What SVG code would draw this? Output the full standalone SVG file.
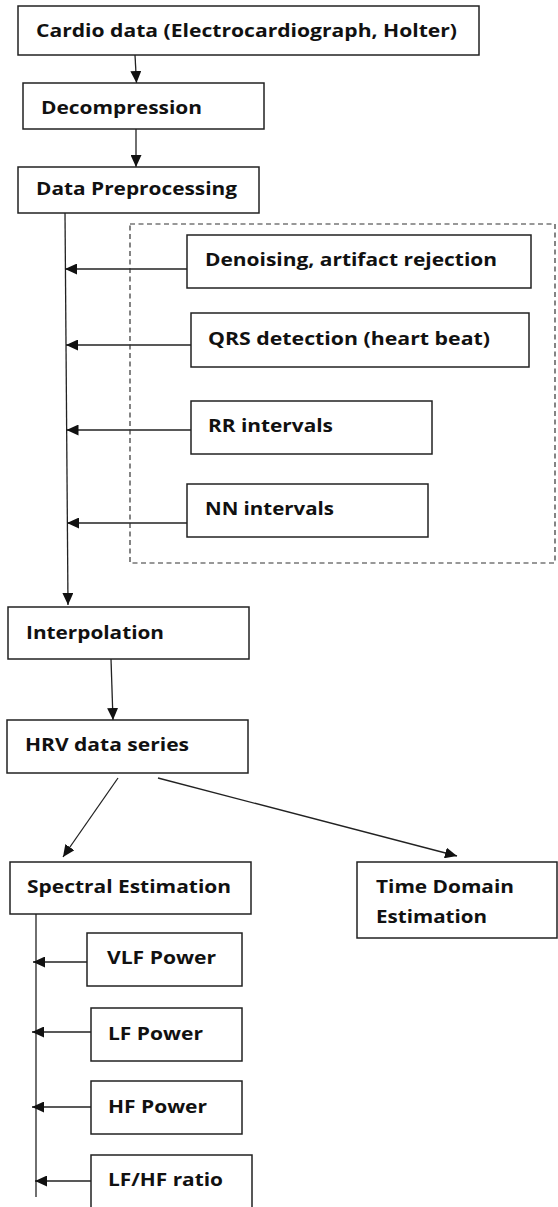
<svg xmlns="http://www.w3.org/2000/svg" width="558" height="1207" viewBox="0 0 558 1207">
<defs>
<style>
.box{fill:#fff;stroke:#222;stroke-width:1.5}
.dash{fill:none;stroke:#333;stroke-width:1.2;stroke-dasharray:5 3.5}
.ln{fill:none;stroke:#222;stroke-width:1.3}
.arr{fill:none;stroke:#222;stroke-width:1.3;marker-end:url(#ah)}
text{font-family:"Open Sans","Liberation Sans",sans-serif;font-weight:700;font-size:18px;fill:#111}
</style>
<marker id="ah" markerUnits="userSpaceOnUse" markerWidth="13" markerHeight="11" refX="12" refY="5.5" orient="auto">
<path d="M0,0 L12,5.5 L0,11 Z" fill="#111"/>
</marker>
</defs>
<rect width="558" height="1207" fill="#fff"/>
<g id="connectors">
<line class="arr" x1="135" y1="55" x2="136.5" y2="83"/>
<line class="arr" x1="136" y1="129" x2="136" y2="167"/>
<line class="arr" x1="65" y1="213" x2="68" y2="605"/>
<line class="arr" x1="187" y1="269" x2="65" y2="269"/>
<line class="arr" x1="191" y1="345" x2="66" y2="345"/>
<line class="arr" x1="191" y1="430" x2="66.5" y2="430"/>
<line class="arr" x1="187" y1="523" x2="67" y2="523"/>
<line class="arr" x1="111" y1="659" x2="113" y2="720"/>
<line class="arr" x1="118" y1="778" x2="63" y2="857"/>
<line class="arr" x1="158" y1="778" x2="457" y2="856"/>
<line class="ln" x1="36" y1="914" x2="36" y2="1197"/>
<line class="arr" x1="87" y1="962" x2="33" y2="962"/>
<line class="arr" x1="91" y1="1032" x2="32" y2="1032"/>
<line class="arr" x1="91" y1="1107" x2="32" y2="1107"/>
<line class="arr" x1="91" y1="1181" x2="35" y2="1181"/>
</g>
<g id="preprocessing-group">
<rect class="dash" x="130" y="224" width="425" height="339"/>
</g>
<g id="cardio">
<rect class="box" x="18" y="6" width="461" height="49"/>
<text x="36" y="37" textLength="421" lengthAdjust="spacingAndGlyphs">Cardio data (Electrocardiograph, Holter)</text>
</g>
<g id="decompression">
<rect class="box" x="23" y="83" width="241" height="46"/>
<text x="41" y="114" textLength="161" lengthAdjust="spacingAndGlyphs">Decompression</text>
</g>
<g id="preprocessing">
<rect class="box" x="18" y="167" width="241" height="46"/>
<text x="36" y="195" textLength="201" lengthAdjust="spacingAndGlyphs">Data Preprocessing</text>
</g>
<g id="denoising">
<rect class="box" x="187" y="235" width="344" height="53"/>
<text x="205" y="266" textLength="292" lengthAdjust="spacingAndGlyphs">Denoising, artifact rejection</text>
</g>
<g id="qrs">
<rect class="box" x="191" y="313" width="338" height="54"/>
<text x="208" y="345" textLength="282" lengthAdjust="spacingAndGlyphs">QRS detection (heart beat)</text>
</g>
<g id="rr">
<rect class="box" x="191" y="401" width="241" height="53"/>
<text x="208" y="432" textLength="125" lengthAdjust="spacingAndGlyphs">RR intervals</text>
</g>
<g id="nn">
<rect class="box" x="187" y="484" width="241" height="53"/>
<text x="205" y="515" textLength="129" lengthAdjust="spacingAndGlyphs">NN intervals</text>
</g>
<g id="interpolation">
<rect class="box" x="8" y="607" width="241" height="52"/>
<text x="26" y="639" textLength="138" lengthAdjust="spacingAndGlyphs">Interpolation</text>
</g>
<g id="hrv">
<rect class="box" x="7" y="720" width="241" height="53"/>
<text x="25" y="751" textLength="164" lengthAdjust="spacingAndGlyphs">HRV data series</text>
</g>
<g id="spectral">
<rect class="box" x="10" y="862" width="241" height="52"/>
<text x="27" y="893" textLength="204" lengthAdjust="spacingAndGlyphs">Spectral Estimation</text>
</g>
<g id="timedomain">
<rect class="box" x="357" y="862" width="200" height="76"/>
<text x="376" y="893" textLength="138" lengthAdjust="spacingAndGlyphs">Time Domain</text>
<text x="376" y="923" textLength="111" lengthAdjust="spacingAndGlyphs">Estimation</text>
</g>
<g id="vlf">
<rect class="box" x="87" y="933" width="155" height="53"/>
<text x="107" y="964" textLength="109" lengthAdjust="spacingAndGlyphs">VLF Power</text>
</g>
<g id="lf">
<rect class="box" x="91" y="1008" width="151" height="53"/>
<text x="108" y="1040" textLength="95" lengthAdjust="spacingAndGlyphs">LF Power</text>
</g>
<g id="hf">
<rect class="box" x="91" y="1081" width="151" height="53"/>
<text x="108" y="1113" textLength="99" lengthAdjust="spacingAndGlyphs">HF Power</text>
</g>
<g id="lfhf">
<path class="box" d="M91,1212 V1155 H252 V1212"/>
<text x="108" y="1186" textLength="115" lengthAdjust="spacingAndGlyphs">LF/HF ratio</text>
</g>
</svg>
